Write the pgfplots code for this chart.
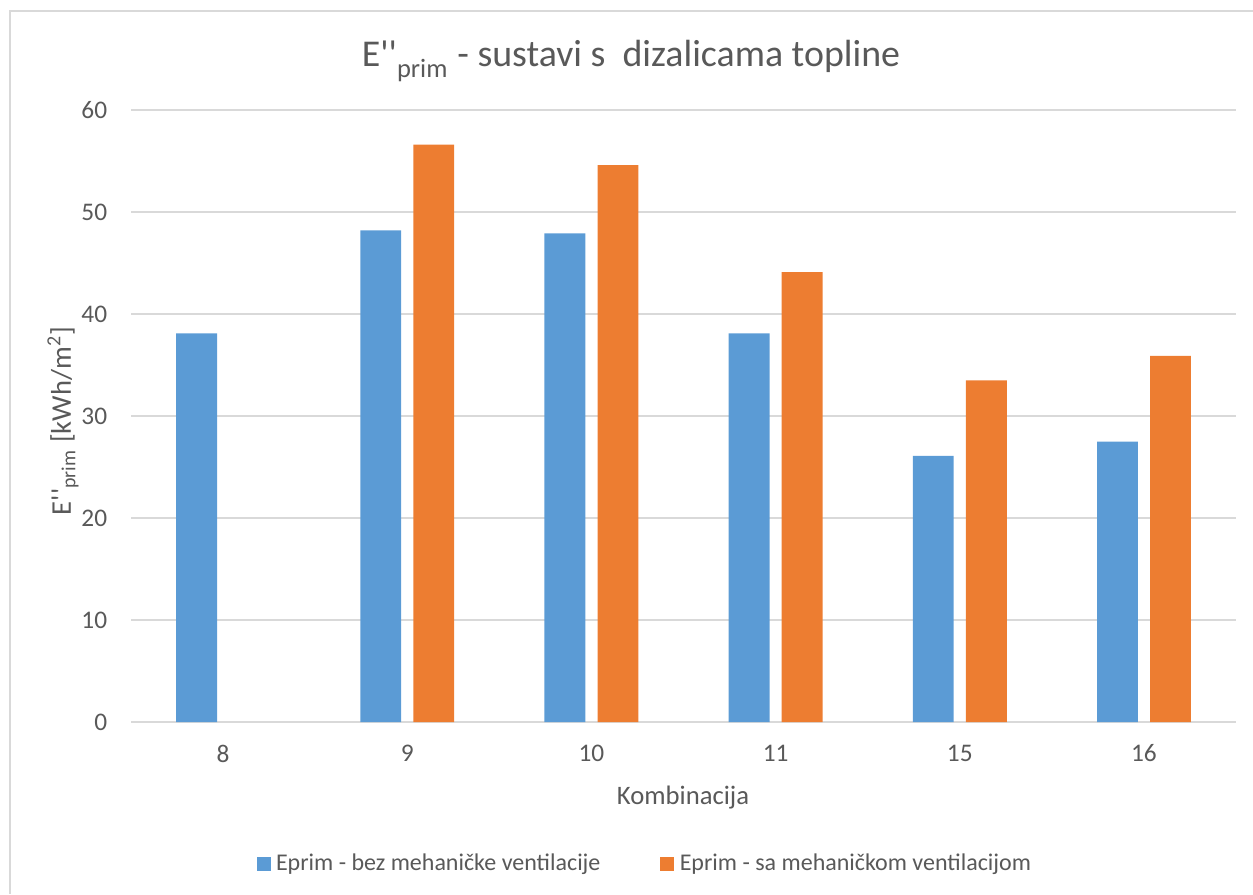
\documentclass[border=0pt]{standalone}
\usepackage{fontspec}
\setmainfont{Carlito}
\usepackage{pgfplots}
\pgfplotsset{compat=1.18}
\definecolor{eblue}{HTML}{5B9BD5}
\definecolor{eorange}{HTML}{ED7D31}
\definecolor{egrid}{HTML}{D9D9D9}
\definecolor{etext}{HTML}{595959}
\begin{document}
\begin{tikzpicture}[x=0.375pt,y=0.375pt]
\useasboundingbox (0,0) rectangle (1253,894);
% chart frame (only left and top edges are visible)
\draw[egrid, line width=0.75pt] (10,0) -- (10,883) -- (1253,883);
\node[etext, font=\fontsize{14.2}{17}\selectfont, anchor=base] at (631,827)
  {E\textquotesingle\textquotesingle\raisebox{-0.25ex}{\textsubscript{prim}} - sustavi s\ \ dizalicama topline};
\begin{axis}[
    at={(49.125pt,64.5pt)}, anchor=south west,
    scale only axis,
    width=414.4pt, height=229.5pt,
    ybar,
    xmin=-0.5, xmax=5.5,
    ymin=0, ymax=60,
    xtick={0,...,5},
    xticklabels={8,9,10,11,15,16},
    ytick={0,10,...,60},
    axis line style={draw=none},
    major tick length=0pt,
    ymajorgrids,
    grid style={egrid, line width=0.75pt},
    ticklabel style={font=\fontsize{9.5}{11}\selectfont, text=etext},
    yticklabel style={xshift=-5.4pt},
    xticklabel style={yshift=-5pt},
    /pgf/number format/assume math mode=true,
    legend columns=2,
    legend style={at={(0.4665,-0.232)}, anchor=center, draw=none,
        font=\fontsize{9.0}{11}\selectfont, text=etext,
        /tikz/every even column/.append style={column sep=20.5pt}},
    legend image code/.code={\fill[#1] (0pt,-2.6pt) rectangle (5.25pt,2.6pt);},
]
\addplot[fill=eblue, draw=none, bar width=0.222, bar shift=-0.144] coordinates {
    (0,38.1) (1,48.2) (2,47.9) (3,38.1) (4,26.1) (5,27.5)
};
\addplot[fill=eorange, draw=none, bar width=0.222, bar shift=0.144] coordinates {
    (1,56.6) (2,54.6) (3,44.1) (4,33.5) (5,35.9)
};
\legend{Eprim - bez mehaničke ventilacije, Eprim - sa mehaničkom ventilacijom}
\end{axis}
\node[etext, font=\fontsize{10.7}{12}\selectfont, rotate=90] at (63,473)
  {E\textquotesingle\textquotesingle\textsubscript{prim} [kWh/m\textsuperscript{2}]};
\node[etext, font=\fontsize{10}{12}\selectfont, anchor=base] at (683,90) {Kombinacija};
\end{tikzpicture}
\end{document}
